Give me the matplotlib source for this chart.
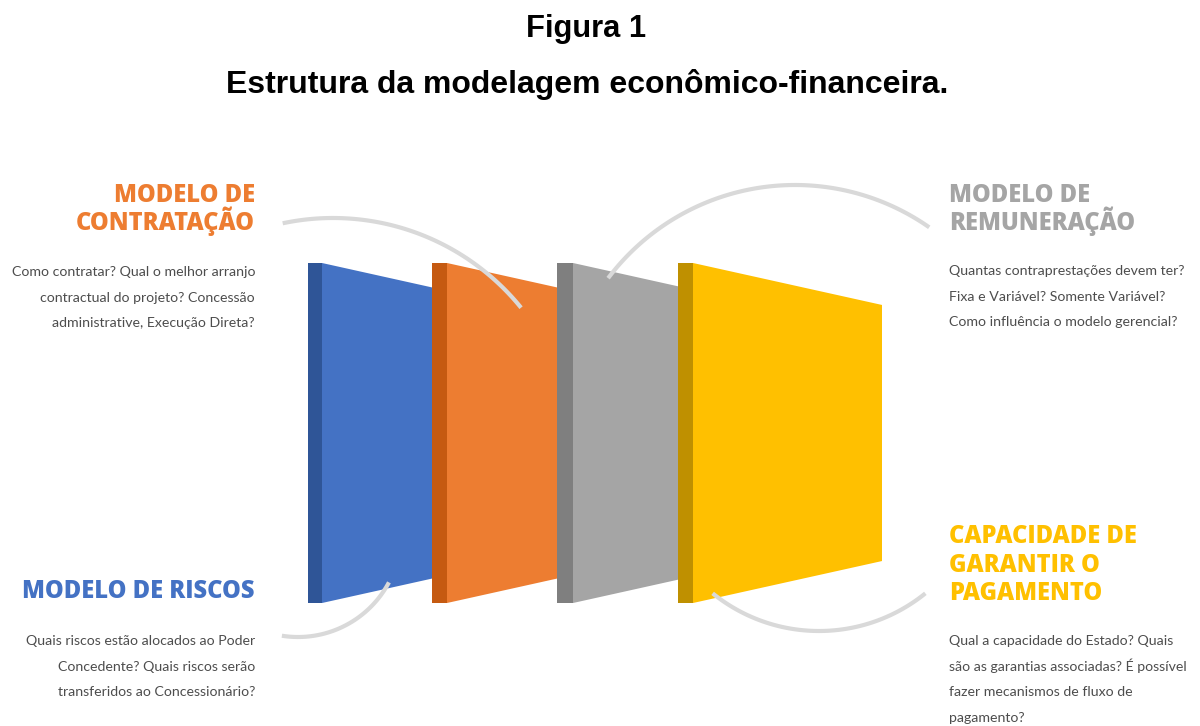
import numpy as np
import matplotlib
matplotlib.use('Agg')
import matplotlib.pyplot as plt
from matplotlib.patches import Polygon

# Texts of the figure
title_lines = ['Figura 1', 'Estrutura da modelagem econômico-financeira.']

headings = [
    ['MODELO DE', 'CONTRATAÇÃO'],
    ['MODELO DE', 'REMUNERAÇÃO'],
    ['MODELO DE RISCOS'],
    ['CAPACIDADE DE', 'GARANTIR O', 'PAGAMENTO'],
]
bodies = [
    ['Como contratar? Qual o melhor arranjo',
     'contractual do projeto? Concessão',
     'administrative, Execução Direta?'],
    ['Quantas contraprestações devem ter?',
     'Fixa e Variável? Somente Variável?',
     'Como influência o modelo gerencial?'],
    ['Quais riscos estão alocados ao Poder',
     'Concedente? Quais riscos serão',
     'transferidos ao Concessionário?'],
    ['Qual a capacidade do Estado? Quais',
     'são as garantias associadas? É possível',
     'fazer mecanismos de fluxo de',
     'pagamento?'],
]
face_colors = ['#4472C4', '#ED7D31', '#A5A5A5', '#FFC000']
edge_colors = ['#2F5597', '#C55A11', '#7F7F7F', '#BF9000']
heading_colors = ['#ED7D31', '#A5A5A5', '#4472C4', '#FFC000']

# layout (pixel coordinates, y down)
strip_x = [308, 432, 557, 678]
face_x0 = [322, 447, 573, 693]
face_x1 = [432, 557, 678, 882]
top_y, bot_y = 263, 603
slope = 0.222

# text blocks: x anchor, alignment, first heading baseline, first body baseline
blocks = [
    (255, 'right', 202, 276),
    (949, 'left', 202, 275),
    (255, 'right', 598, 645),
    (949, 'left', 543, 645),
]

# connector arcs: centre, radius, start/end angle (deg)
arcs = [
    ((333, 460), 242, 39, 102),
    ((795, 419), 234, 55, 143),
    ((298, 534), 103, -99, -28),
    ((819, 462), 169, -129, -51),
]

fig = plt.figure(figsize=(12, 7.26), dpi=100)
ax = fig.add_axes([0, 0, 1, 1])
ax.set_xlim(0, 1200)
ax.set_ylim(726, 0)
ax.axis('off')

for i in range(4):
    w = face_x1[i] - face_x0[i]
    d = slope * w
    ax.add_patch(Polygon([(strip_x[i], top_y), (face_x0[i], top_y),
                          (face_x0[i], bot_y), (strip_x[i], bot_y)],
                         closed=True, facecolor=edge_colors[i], edgecolor='none', zorder=2))
    ax.add_patch(Polygon([(face_x0[i], top_y), (face_x1[i], top_y + d),
                          (face_x1[i], bot_y - d), (face_x0[i], bot_y)],
                         closed=True, facecolor=face_colors[i], edgecolor='none', zorder=2))

for (cx, cy), r, a0, a1 in arcs:
    t = np.radians(np.linspace(a0, a1, 120))
    ax.plot(cx + r * np.cos(t), cy - r * np.sin(t), color='#D9D9D9', lw=3,
            solid_capstyle='butt', zorder=3)

ax.text(586, 29, title_lines[0], ha='center', va='center', fontsize=22.2,
        fontweight='bold', family='Liberation Sans', color='black')
ax.text(587, 85, title_lines[1], ha='center', va='center', fontsize=23,
        fontweight='bold', family='Liberation Sans', color='black')

for i, (x, ha, hy, by) in enumerate(blocks):
    for j, line in enumerate(headings[i]):
        ax.text(x, hy + j * 28.5, line, ha=ha, va='baseline', fontsize=17,
                fontweight='heavy', family='Open Sans', color=heading_colors[i])
    for j, line in enumerate(bodies[i]):
        ax.text(x, by + j * 25.7, line, ha=ha, va='baseline', fontsize=10.2,
                fontweight='normal', family='Lato', color='#4d4d4d')

fig.savefig('out.png', dpi=100)
